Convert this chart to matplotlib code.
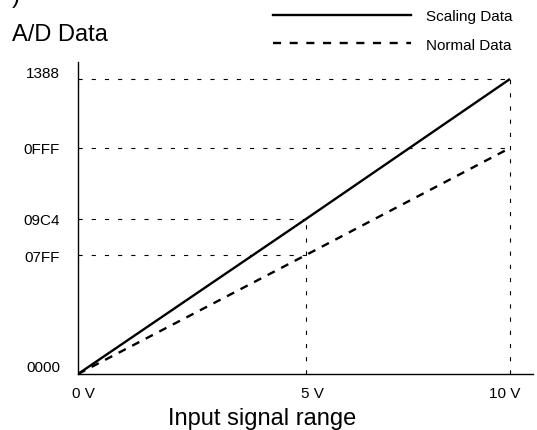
import numpy as np
import matplotlib
matplotlib.use('Agg')
import matplotlib.pyplot as plt
from matplotlib.lines import Line2D
from matplotlib.transforms import ScaledTranslation

plt.rcParams['font.family'] = ['Liberation Sans', 'DejaVu Sans']
plt.rcParams['lines.scale_dashes'] = False

# Input voltage (V) and A/D counts
volts = [0, 5, 10]
scaling_data = [0, 2500, 5000]     # 0000 -> 09C4 -> 1388 (hex)
normal_data = [0, 2047, 4095]      # 0000 -> 07FF -> 0FFF (hex)

x_ticks = [0, 5, 10]
x_labels = ['0 V', '5 V', '10 V']
y_ticks = [0, 2047, 2500, 4095, 5000]
y_labels = ['0000', '07FF', '09C4', '0FFF', '1388']

# the drawing is schematic: axis positions are not strictly linear
x_knots, x_pos = [0, 5, 10, 12], [0, 228, 432, 513.6]
y_knots, y_pos = [0, 2047, 2500, 4095, 5000, 6000], [0, 119, 155, 226, 295, 371.2]


def fx(v):
    return np.interp(v, x_knots, x_pos)


def ix(p):
    return np.interp(p, x_pos, x_knots)


def fy(v):
    return np.interp(v, y_knots, y_pos)


def iy(p):
    return np.interp(p, y_pos, y_knots)


fig = plt.figure(figsize=(5.37, 4.31), dpi=100)
ax = fig.add_axes([78 / 537, 56 / 431, 455 / 537, 312 / 431])
ax.set_xscale('function', functions=(fx, ix))
ax.set_yscale('function', functions=(fy, iy))
ax.set_xlim(0, ix(455))
ax.set_ylim(0, iy(312))

# guide lines
guide = dict(color='black', lw=0.8, linestyle=(0, (3, 6.5)))
for xv, yv in zip(volts[1:], scaling_data[1:]):
    ax.plot([0, xv], [yv, yv], **guide)
    ax.plot([xv, xv], [0, yv], **guide)
for xv, yv in zip(volts[1:], normal_data[1:]):
    ax.plot([0, xv], [yv, yv], **guide)

ax.plot(volts, scaling_data, color='black', lw=1.7, solid_capstyle='butt')
ax.plot(volts, normal_data, color='black', lw=1.7, linestyle=(0, (5.8, 5.2)))

for side in ['top', 'right']:
    ax.spines[side].set_visible(False)
for side in ['left', 'bottom']:
    ax.spines[side].set_linewidth(1.0)

ax.set_xticks(x_ticks, x_labels, fontsize=11)
ax.set_yticks(y_ticks, y_labels, fontsize=11)
ax.tick_params(axis='x', length=0, pad=9)
ax.tick_params(axis='y', length=0, pad=13)
ax.minorticks_off()

# small label offsets as in the original drawing
y_shift = {'0000': 8, '1388': 8}
for lab in ax.get_yticklabels():
    dy = y_shift.get(lab.get_text(), 0)
    lab.set_transform(lab.get_transform() + ScaledTranslation(0, dy / 100, fig.dpi_scale_trans))
x_shift = {'0 V': 5, '5 V': 6, '10 V': -5}
for lab in ax.get_xticklabels():
    dx = x_shift.get(lab.get_text(), 0)
    lab.set_transform(lab.get_transform() + ScaledTranslation(dx / 100, 0, fig.dpi_scale_trans))

fig.text(12 / 537, 1 - 3 / 431, ')', fontsize=17, va='baseline')
fig.text(12 / 537, 1 - 41 / 431, 'A/D Data', fontsize=17, va='baseline')
fig.text(262 / 537, 1 - 425 / 431, 'Input signal range', fontsize=17,
         va='baseline', ha='center')

handles = [Line2D([], [], color='black', lw=1.7),
           Line2D([], [], color='black', lw=1.7, linestyle=(0, (5.8, 6.2)))]
fig.legend(handles, ['Scaling Data', 'Normal Data'], loc='upper left',
           bbox_to_anchor=(267 / 537, 1 - 4 / 431), frameon=False, fontsize=11,
           handlelength=9.0, handletextpad=1.0, labelspacing=0.95,
           borderaxespad=0)

fig.savefig('out.png', dpi=100)
